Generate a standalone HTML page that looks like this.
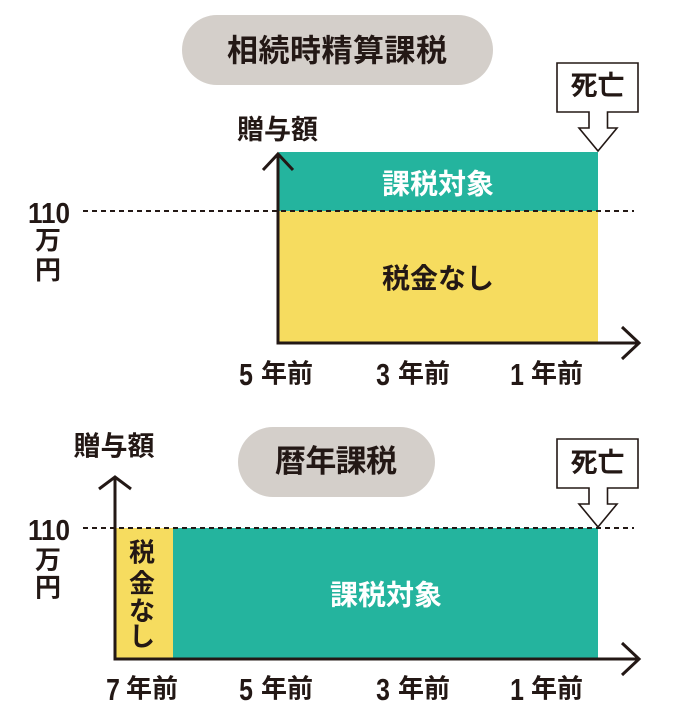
<!DOCTYPE html>
<html>
<head>
<meta charset="utf-8">
<style>
  html,body{margin:0;padding:0;background:#fff;}
  svg{display:block;}
  .jp{font-family:"Liberation Sans","Noto Sans CJK JP",sans-serif;font-weight:bold;fill:#231815;}
  .num{font-family:"Liberation Sans",sans-serif;font-weight:bold;fill:#231815;}
</style>
</head>
<body>
<svg width="680" height="714" viewBox="0 0 680 714" xmlns="http://www.w3.org/2000/svg">
  <!-- ===== TOP CHART ===== -->
  <rect x="182" y="15" width="311" height="70" rx="35" ry="35" fill="#d4cfca"/>
  <text class="jp" x="337" y="51" font-size="31" text-anchor="middle" dominant-baseline="central" textLength="220">相続時精算課税</text>

  <!-- death marker -->
  <path d="M557,63 H638 V112 H607.5 V128 H617 L598,151 L579,128 H589 V112 H557 Z" fill="#fff" stroke="#231815" stroke-width="1.6" stroke-linejoin="miter"/>
  <text class="jp" x="597.5" y="86" font-size="27" text-anchor="middle" dominant-baseline="central">死亡</text>

  <!-- y label -->
  <text class="jp" x="277.5" y="130" font-size="27" text-anchor="middle" dominant-baseline="central">贈与額</text>

  <!-- bars -->
  <rect x="279" y="152" width="319" height="59" fill="#24b49e"/>
  <rect x="279" y="211" width="319" height="132" fill="#f6dc5f"/>
  <text class="jp" x="438" y="184" font-size="28" text-anchor="middle" dominant-baseline="central" style="fill:#fff">課税対象</text>
  <text class="jp" x="438" y="278.5" font-size="28" text-anchor="middle" dominant-baseline="central">税金なし</text>

  <!-- dashed -->
  <line x1="83" y1="211" x2="634" y2="211" stroke="#231815" stroke-width="2" stroke-dasharray="5 4"/>

  <!-- axes -->
  <line x1="278" y1="154" x2="278" y2="344.5" stroke="#231815" stroke-width="3"/>
  <polyline points="263,170 278,154 293,170" fill="none" stroke="#231815" stroke-width="3"/>
  <line x1="276.5" y1="343" x2="638" y2="343" stroke="#231815" stroke-width="3"/>
  <polyline points="622,327 639,343 622,359" fill="none" stroke="#231815" stroke-width="3"/>

  <!-- 110万円 -->
  <text class="num" transform="translate(49,223) scale(0.9,1)" font-size="29" text-anchor="middle">110</text>
  <text class="jp" x="48" y="240.5" font-size="26" text-anchor="middle" dominant-baseline="central">万</text>
  <text class="jp" x="48" y="270" font-size="26" text-anchor="middle" dominant-baseline="central">円</text>

  <!-- x labels top -->
  <text class="num" transform="translate(246,385) scale(0.8,1)" font-size="31" text-anchor="middle">5</text>
  <text class="jp" x="261" y="373.5" font-size="26" dominant-baseline="central">年</text>
  <text class="jp" x="287" y="373.5" font-size="26" dominant-baseline="central">前</text>

  <text class="num" transform="translate(383,385) scale(0.8,1)" font-size="31" text-anchor="middle">3</text>
  <text class="jp" x="398" y="373.5" font-size="26" dominant-baseline="central">年</text>
  <text class="jp" x="424" y="373.5" font-size="26" dominant-baseline="central">前</text>

  <text class="num" transform="translate(517,385) scale(0.8,1)" font-size="31" text-anchor="middle">1</text>
  <text class="jp" x="531" y="373.5" font-size="26" dominant-baseline="central">年</text>
  <text class="jp" x="557" y="373.5" font-size="26" dominant-baseline="central">前</text>

  <!-- ===== BOTTOM CHART ===== -->
  <text class="jp" x="114" y="446.5" font-size="27" text-anchor="middle" dominant-baseline="central">贈与額</text>

  <rect x="238" y="427" width="197" height="70" rx="35" ry="35" fill="#d4cfca"/>
  <text class="jp" x="336" y="461.5" font-size="31" text-anchor="middle" dominant-baseline="central" textLength="122">暦年課税</text>

  <path d="M557,439 H638 V488 H607.5 V504 H617 L598,527 L579,504 H589 V488 H557 Z" fill="#fff" stroke="#231815" stroke-width="1.6"/>
  <text class="jp" x="597.5" y="463" font-size="27" text-anchor="middle" dominant-baseline="central">死亡</text>

  <rect x="115" y="528" width="58" height="131" fill="#f6dc5f"/>
  <rect x="173" y="528" width="425" height="131" fill="#24b49e"/>

  <text class="jp" x="142" y="552.5" font-size="26" text-anchor="middle" dominant-baseline="central">税</text>
  <text class="jp" x="142" y="583.5" font-size="26" text-anchor="middle" dominant-baseline="central">金</text>
  <text class="jp" x="142" y="611" font-size="26" text-anchor="middle" dominant-baseline="central">な</text>
  <text class="jp" x="142" y="636.5" font-size="26" text-anchor="middle" dominant-baseline="central">し</text>

  <text class="jp" x="386" y="595" font-size="28" text-anchor="middle" dominant-baseline="central" style="fill:#fff">課税対象</text>

  <line x1="83" y1="528" x2="634" y2="528" stroke="#231815" stroke-width="2" stroke-dasharray="5 4"/>

  <line x1="115" y1="477" x2="115" y2="660.5" stroke="#231815" stroke-width="3"/>
  <polyline points="99,489 115,477 131,489" fill="none" stroke="#231815" stroke-width="3"/>
  <line x1="113.5" y1="659" x2="638" y2="659" stroke="#231815" stroke-width="3"/>
  <polyline points="622,643 639,659 622,675" fill="none" stroke="#231815" stroke-width="3"/>

  <text class="num" transform="translate(49,540) scale(0.9,1)" font-size="29" text-anchor="middle">110</text>
  <text class="jp" x="48" y="560" font-size="26" text-anchor="middle" dominant-baseline="central">万</text>
  <text class="jp" x="48" y="587.5" font-size="26" text-anchor="middle" dominant-baseline="central">円</text>

  <!-- x labels bottom -->
  <text class="num" transform="translate(113,700) scale(0.8,1)" font-size="31" text-anchor="middle">7</text>
  <text class="jp" x="126" y="688.5" font-size="26" dominant-baseline="central">年</text>
  <text class="jp" x="152" y="688.5" font-size="26" dominant-baseline="central">前</text>

  <text class="num" transform="translate(246,700) scale(0.8,1)" font-size="31" text-anchor="middle">5</text>
  <text class="jp" x="261" y="688.5" font-size="26" dominant-baseline="central">年</text>
  <text class="jp" x="287" y="688.5" font-size="26" dominant-baseline="central">前</text>

  <text class="num" transform="translate(383,700) scale(0.8,1)" font-size="31" text-anchor="middle">3</text>
  <text class="jp" x="398" y="688.5" font-size="26" dominant-baseline="central">年</text>
  <text class="jp" x="424" y="688.5" font-size="26" dominant-baseline="central">前</text>

  <text class="num" transform="translate(517,700) scale(0.8,1)" font-size="31" text-anchor="middle">1</text>
  <text class="jp" x="531" y="688.5" font-size="26" dominant-baseline="central">年</text>
  <text class="jp" x="557" y="688.5" font-size="26" dominant-baseline="central">前</text>
</svg>
</body>
</html>
